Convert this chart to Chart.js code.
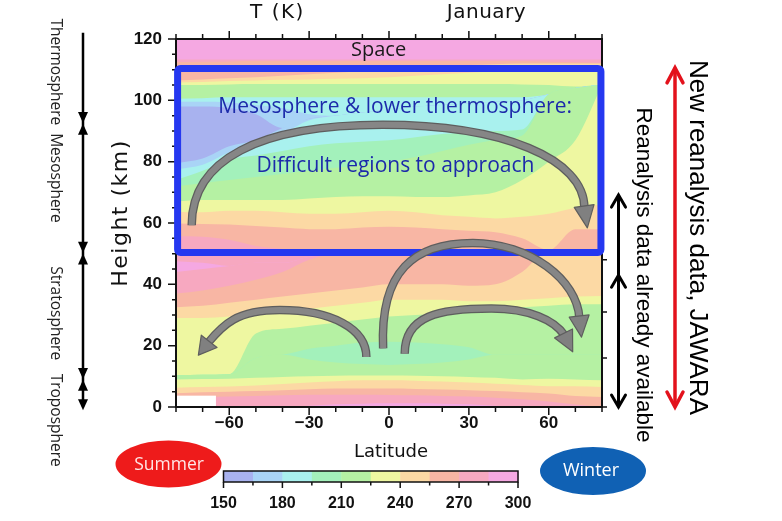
<!DOCTYPE html>
<html><head><meta charset="utf-8">
<script src="https://cdn.jsdelivr.net/npm/chart.js@4"></script>
<style>html,body{margin:0;padding:0;background:#fff;}canvas{display:block;}</style>
</head><body>
<canvas id="c" width="782" height="521"></canvas>
<script>
// ---------- data ----------
const latitudes = [-80,-70,-60,-50,-40,-30,-20,-10,0,10,20,30,40,50,60,70,80];
const xTickValues = [-60,-30,0,30,60];
const yTickValues = [0,20,40,60,80,100,120];
const levels = [150,165,180,195,210,225,240,255,270,285,300];
const bandColors = ['#a8b2ef','#a9d4f6','#a9f1ee','#a3f1bb','#b5f1a3','#eef7a1','#fcd9a4','#f8b6a4','#f7a8c0','#f5a8e2'];
// temperature band (index into bandColors) of each layer, bottom to top
const layerBand = [9,8,7,6,5,4,3,4,5,6,7,8,9,8,7,6,5,4,3,2,1,0,1,2,4,5,6,7,8,9];
// height (km) of the top of each layer at each latitude
const layerTop = [
 [0,0,0,0,0,0.4,0.9,1.1,1.2,1.2,1.1,0.9,0.4,0,0,0,0],
 [3.0,3.2,3.4,3.6,3.8,4.0,4.0,4.0,3.9,3.8,3.6,3.4,3.0,2.5,1.8,0.8,0],
 [4.5,4.8,5.0,5.2,5.5,5.8,6.0,6.0,6.0,5.9,5.7,5.5,5.2,4.8,4.4,3.6,3.3],
 [6.3,6.5,6.7,7.0,7.5,8.0,8.4,8.7,8.7,8.6,8.3,8.0,7.6,7.2,6.8,6.8,6.5],
 [9.0,9.1,9.2,9.5,9.8,10.0,10.2,10.3,10.3,10.2,10.0,9.8,9.5,9.0,9.2,9.0,8.7],
 [10.3,10.5,10.7,16,17,15.5,14.5,14,13.7,14,14.5,15.5,17,17,17,17,17],
 [10.3,10.5,10.7,16,17,19,20,21,21.3,21,20.5,19.5,17,17,17,17,17],
 [10.3,10.5,10.7,24,25.5,26.5,27.5,28.5,29.5,30,30.5,31,32,32.5,33,33.5,33.5],
 [29,29,29.5,30,31,32,33,34,35,35,35,34.5,34.5,35,35.5,36,36.2],
 [32.5,33,34,35,36,37,38,39,40,40,40,39.5,40,44,51,51,51],
 [37,38,39.5,41.5,44,48,50,50,50,50,50,50,50,50,51,51,51],
 [44,45,46,47,47,49,50,50,50,50,50,50,50,50,51,51,51],
 [47.5,47,46,47,47,49,50,50,50,50,50,50,50,50,51,51,51],
 [55.8,55.5,54.5,52.5,51.5,50.5,50,50,50,50,50,50,50,50,51,51,51],
 [59.8,59.7,59.5,59,58.5,58,58,58.5,58.8,58.5,58,57.5,57,55,51.2,58,58],
 [63.7,63.5,64,64,63.5,63,63,63.5,64,63.5,62.5,62,61.5,62,63,65,66],
 [67,67.5,67.5,67.5,67.5,68,68.5,68.7,68.7,68.5,68.5,69,70,74,80,87,105],
 [72,73,74,75,76,77,78,79,80,81.5,83.5,85.5,87,88.5,102,104,105.2],
 [74,77,80.7,82,83.5,85,86,86.5,87,88,89,89.5,90,90.5,102,104,105.2],
 [77.5,79,83,85,89,93.5,95,96,97,98,98.5,99,99.5,100,102,104,105.2],
 [79.5,81,85,87,91,94,95,96,97,98,98.5,99,99.5,100,102,104,105.2],
 [98,98,97.5,95.5,91,94,95,96,97,98,98.5,99,99.5,100,102,104,105.2],
 [99.5,99.5,99.3,98.5,97.5,95.5,95,96,97,98,98.5,99,99.5,100,102,104,105.2],
 [100.5,100.7,101,101,101,101,101,101,101,101,101,101,101,101,102,104,105.2],
 [105,105,105.2,105.3,105.3,105.3,105.3,105.3,105.3,105.3,105.3,105.3,105.3,105.2,105,104.5,105.2],
 [105.8,106,106.3,106.5,106.7,106.8,107,107.2,107.5,108,108.5,109,109.5,110,110.5,111,111],
 [106.5,106.8,107.2,107.5,108,108.5,109,109.5,110,110.5,111,111.5,111.8,112,112,112,112],
 [112.5,112.6,112.7,112.8,112.8,112.8,112.8,112.8,112.8,112.8,112.8,112.8,112.8,112.8,112.6,112.4,112.2],
 [113.3,113.3,113.3,113.3,113.3,113.3,113.3,113.3,113.3,113.3,113.3,113.3,113.3,113.3,113.3,113.3,113.3],
 [120,120,120,120,120,120,120,120,120,120,120,120,120,120,120,120,120]
];
// missing-data block (Antarctic topography)
const topoLat = [-80,-65];
const topoTop = 3.7;
// highlighted region (lat range, km range)
const boxLat = [-79.4, 79.6];
const boxKm = [50.4, 110.4];
// circulation arrows: start, ctrl, ctrl, mid, ctrl, ctrl, end, tip  [lat, km]
const arrowA = [[-74.1,59.3],[-74.1,80.6],[-49.0,92.0],[-2.4,92.0],[43.0,92.0],[73.4,80.9],[73.4,64.9],[74.5,58.4]];
const arrowB = [[-8.5,16.3],[-8.5,25.5],[-21.5,31.6],[-41.0,31.6],[-57.2,31.6],[-62.4,26.8],[-68.0,20.9],[-71.6,16.9]];
const arrowC = [[-2.2,19.1],[-3.5,44.6],[9.6,53.5],[31.5,53.5],[52.8,53.5],[70.8,41.4],[71.5,29.0],[72.3,22.8]];
const arrowD = [[5.9,17.4],[5.9,29.9],[19.0,32.1],[38.4,32.1],[52.8,32.1],[62.1,28.3],[65.9,23.4],[69.0,18.0]];
// atmospheric layers on the left (km)
const layerNames = ['Thermosphere','Mesosphere','Stratosphere','Troposphere'];
const layerNameKm = [109.3, 74.7, 30.6, -4.3];
const layerBoundsKm = [122, 92.5, 50.2, 9.0, -1.1];
// data-coverage arrows on the right (km)
const jawaraKm = [110.6, 0];
const existingKm = [69.1, 43.0, 0];
const rightAxisTicksKm = [0, 16, 31, 48];

// ---------- chart ----------
const datasets = layerTop.map((tops, i) => ({
  data: latitudes.map((lat, j) => ({x: lat, y: tops[j]})),
  backgroundColor: bandColors[layerBand[i]],
  borderColor: 'rgba(0,0,0,0)',
  borderWidth: 0,
  fill: 'origin',
  pointRadius: 0,
  pointHoverRadius: 0,
  cubicInterpolationMode: 'monotone'
}));

function txt(ctx, s, X, Y, font, color, rot, align, baseline, spacing) {
  ctx.save();
  ctx.translate(X, Y);
  if (rot) ctx.rotate(rot);
  ctx.font = font; ctx.fillStyle = color;
  ctx.textAlign = align || 'center';
  ctx.textBaseline = baseline || 'middle';
  if (spacing) ctx.letterSpacing = spacing + 'px';
  ctx.fillText(s, 0, 0);
  ctx.restore();
}

const overlay = {
  id: 'overlay',
  beforeDraw(chart) {
    const c = chart.ctx; c.save(); c.fillStyle = '#fff'; c.fillRect(0, 0, chart.width, chart.height); c.restore();
  },
  afterDraw(chart) {
    const ctx = chart.ctx, a = chart.chartArea, xs = chart.scales.x, ys = chart.scales.y;
    const px = v => xs.getPixelForValue(v), py = v => ys.getPixelForValue(v);
    ctx.save();
    // topography block
    ctx.fillStyle = '#ffffff';
    ctx.fillRect(px(topoLat[0]), py(topoTop), px(topoLat[1]) - px(topoLat[0]), py(0) - py(topoTop));
    // plot frame & ticks
    ctx.strokeStyle = '#111'; ctx.lineWidth = 2;
    ctx.strokeRect(a.left, a.top, a.right - a.left, a.bottom - a.top);
    ctx.lineWidth = 1.5;
    ctx.beginPath();
    for (let lat = -80; lat <= 80; lat += 10) {
      const L = (lat % 30 === 0) ? 8 : 5, X = px(lat);
      ctx.moveTo(X, a.bottom); ctx.lineTo(X, a.bottom + L);
      ctx.moveTo(X, a.top); ctx.lineTo(X, a.top - L);
    }
    for (let km = 0; km <= 120; km += 5) {
      const L = (km % 20 === 0) ? 8 : 4, Y = py(km);
      ctx.moveTo(a.left, Y); ctx.lineTo(a.left - L, Y);
    }
    rightAxisTicksKm.forEach(km => { const Y = py(km); ctx.moveTo(a.right, Y); ctx.lineTo(a.right + 5, Y); });
    ctx.stroke();

    // blue box
    const bx0 = px(boxLat[0]), bx1 = px(boxLat[1]), by0 = py(boxKm[1]), by1 = py(boxKm[0]);
    ctx.strokeStyle = '#2538f0'; ctx.lineWidth = 7; ctx.lineJoin = 'round';
    ctx.beginPath(); ctx.roundRect(bx0, by0, bx1 - bx0, by1 - by0, 3); ctx.stroke();

    // texts in plot
    txt(ctx, 'Space', px(-3.9), py(116.2), '20px "Open Sans"', '#1a1a1a');
    txt(ctx, 'Mesosphere & lower thermosphere:', px(2.3), py(95.9), '21px "Open Sans"', '#1c2aaa', 0, 'center', 'alphabetic');
    txt(ctx, 'Difficult regions to approach', px(2.4), py(76.5), '21px "Open Sans"', '#1c2aaa', 0, 'center', 'alphabetic');

    // arrows
    const drawArrow = (p) => {
      const P = p.map(q => [px(q[0]), py(q[1])]);
      const path = () => {
        ctx.beginPath(); ctx.moveTo(P[0][0], P[0][1]);
        ctx.bezierCurveTo(P[1][0], P[1][1], P[2][0], P[2][1], P[3][0], P[3][1]);
        ctx.bezierCurveTo(P[4][0], P[4][1], P[5][0], P[5][1], P[6][0], P[6][1]);
      };
      ctx.lineCap = 'butt';
      path(); ctx.strokeStyle = '#5e5e5e'; ctx.lineWidth = 8.5; ctx.stroke();
      path(); ctx.strokeStyle = '#868686'; ctx.lineWidth = 6; ctx.stroke();
      const bx = P[6][0], by = P[6][1], tx = P[7][0], ty = P[7][1];
      let dx = tx - bx, dy = ty - by; const Ln = Math.hypot(dx, dy); dx /= Ln; dy /= Ln;
      const hw = 10;
      ctx.beginPath(); ctx.moveTo(tx, ty);
      ctx.lineTo(bx - dy * hw - dx * 2, by + dx * hw - dy * 2);
      ctx.lineTo(bx + dy * hw - dx * 2, by - dx * hw - dy * 2);
      ctx.closePath();
      ctx.fillStyle = '#808080'; ctx.fill();
      ctx.strokeStyle = '#5e5e5e'; ctx.lineWidth = 1.2; ctx.stroke();
    };
    [arrowA, arrowB, arrowC, arrowD].forEach(drawArrow);

    // titles & axis titles
    txt(ctx, 'T (K)', 277.5, 13, '20px "DejaVu Sans"', '#111', 0, 'center', 'middle', 1.5);
    txt(ctx, 'January', 486.5, 13, '20px "DejaVu Sans"', '#111', 0, 'center', 'middle', 0.5);
    txt(ctx, 'Height (km)', 121, 213, '22px "DejaVu Sans"', '#111', -Math.PI / 2, 'center', 'middle', 1.5);
    txt(ctx, 'Latitude', 391, 452, '18px "DejaVu Sans"', '#111');

    // left: atmospheric layers
    const LX = 83;
    ctx.strokeStyle = '#000'; ctx.fillStyle = '#000'; ctx.lineWidth = 2.5;
    ctx.beginPath(); ctx.moveTo(LX, py(layerBoundsKm[0])); ctx.lineTo(LX, py(layerBoundsKm[4]) - 4); ctx.stroke();
    const tri = (Y, dir) => { // dir 1 = pointing down (tip at Y)
      ctx.beginPath(); ctx.moveTo(LX, Y); ctx.lineTo(LX - 5, Y - dir * 11); ctx.lineTo(LX + 5, Y - dir * 11); ctx.closePath(); ctx.fill();
    };
    for (let i = 1; i <= 3; i++) { const Y = py(layerBoundsKm[i]); tri(Y - 0.4, 1); tri(Y + 0.4, -1); }
    tri(py(layerBoundsKm[4]), 1);
    layerNames.forEach((n, i) => txt(ctx, n, 55.5, py(layerNameKm[i]), '15.5px "Open Sans"', '#222', Math.PI / 2));

    // right: data coverage
    const chevron = (X, Y, dir, w, h) => { // dir -1 = up
      ctx.beginPath(); ctx.moveTo(X - w, Y - dir * h); ctx.lineTo(X, Y); ctx.lineTo(X + w, Y - dir * h); ctx.stroke();
    };
    ctx.lineCap = 'round'; ctx.lineJoin = 'miter';
    ctx.strokeStyle = '#e3121c'; ctx.lineWidth = 3.5;
    const RX = 675;
    ctx.beginPath(); ctx.moveTo(RX, py(jawaraKm[0]) + 1); ctx.lineTo(RX, py(jawaraKm[1]) - 1); ctx.stroke();
    chevron(RX, py(jawaraKm[0]), -1, 8, 15); chevron(RX, py(jawaraKm[1]), 1, 8, 15);
    const BX = 618.5;
    ctx.strokeStyle = '#000'; ctx.lineWidth = 3;
    ctx.beginPath(); ctx.moveTo(BX, py(existingKm[0]) + 1); ctx.lineTo(BX, py(existingKm[2]) - 1); ctx.stroke();
    chevron(BX, py(existingKm[0]), -1, 7, 12); chevron(BX, py(existingKm[1]), -1, 7, 12); chevron(BX, py(existingKm[2]), 1, 7, 12);
    txt(ctx, 'Reanalysis data already available', 643, 275, '22.5px "Liberation Sans"', '#000', Math.PI / 2);
    txt(ctx, 'New reanalysis data, JAWARA', 697, 237.5, '26px "Liberation Sans"', '#000', Math.PI / 2);

    // colour bar
    const cbX0 = 223.5, cbX1 = 518, cbY0 = 471, cbY1 = 482;
    const w = (cbX1 - cbX0) / bandColors.length;
    bandColors.forEach((c, i) => { ctx.fillStyle = c; ctx.fillRect(cbX0 + i * w, cbY0, w + 0.5, cbY1 - cbY0); });
    ctx.strokeStyle = '#111'; ctx.lineWidth = 1.5; ctx.lineCap = 'butt';
    ctx.strokeRect(cbX0, cbY0, cbX1 - cbX0, cbY1 - cbY0);
    ctx.beginPath();
    levels.forEach((lv, i) => {
      const X = cbX0 + i * w, major = (lv - levels[0]) % 30 === 0;
      ctx.moveTo(X, cbY1); ctx.lineTo(X, cbY1 + (major ? 6 : 3.5));
    });
    ctx.stroke();
    levels.forEach((lv, i) => {
      if ((lv - levels[0]) % 30 === 0) txt(ctx, String(lv), cbX0 + i * w, 503.5, 'bold 16px "Liberation Sans Narrow", "Liberation Sans"', '#111');
    });

    // summer / winter
    ctx.fillStyle = '#ee1b1b';
    ctx.beginPath(); ctx.ellipse(168.5, 464, 53, 23.5, 0, 0, Math.PI * 2); ctx.fill();
    txt(ctx, 'Summer', 169, 465, '17.5px "Open Sans"', '#ffe6e6');
    ctx.fillStyle = '#1061b4';
    ctx.beginPath(); ctx.ellipse(593, 471, 53, 24, 0, 0, Math.PI * 2); ctx.fill();
    txt(ctx, 'Winter', 591, 471, '18px "Open Sans"', '#ffffff');
    ctx.restore();
  }
};

new Chart(document.getElementById('c'), {
  type: 'line',
  data: { datasets },
  options: {
    responsive: false,
    animation: false,
    devicePixelRatio: 1,
    events: [],
    layout: { padding: { left: 0, right: 180, top: 39, bottom: 0 } },
    plugins: { legend: { display: false }, tooltip: { enabled: false } },
    scales: {
      x: {
        type: 'linear', min: -80, max: 80,
        afterBuildTicks: s => { s.ticks = xTickValues.map(v => ({ value: v })); },
        afterFit: s => { s.height = 114; },
        grid: { display: false, drawTicks: false }, border: { display: false },
        ticks: { font: { family: 'Liberation Sans', size: 17, weight: 'bold' }, color: '#111', padding: 6, maxRotation: 0, autoSkip: false,
                 callback: v => String(v).replace('-', '\u2212') }
      },
      y: {
        type: 'linear', min: 0, max: 120,
        afterBuildTicks: s => { s.ticks = yTickValues.map(v => ({ value: v })); },
        afterFit: s => { s.width = 176; },
        grid: { display: false, drawTicks: false }, border: { display: false },
        ticks: { font: { family: 'Liberation Sans', size: 17, weight: 'bold' }, color: '#111', padding: 14, autoSkip: false }
      }
    }
  },
  plugins: [overlay]
});
</script>
</body></html>
